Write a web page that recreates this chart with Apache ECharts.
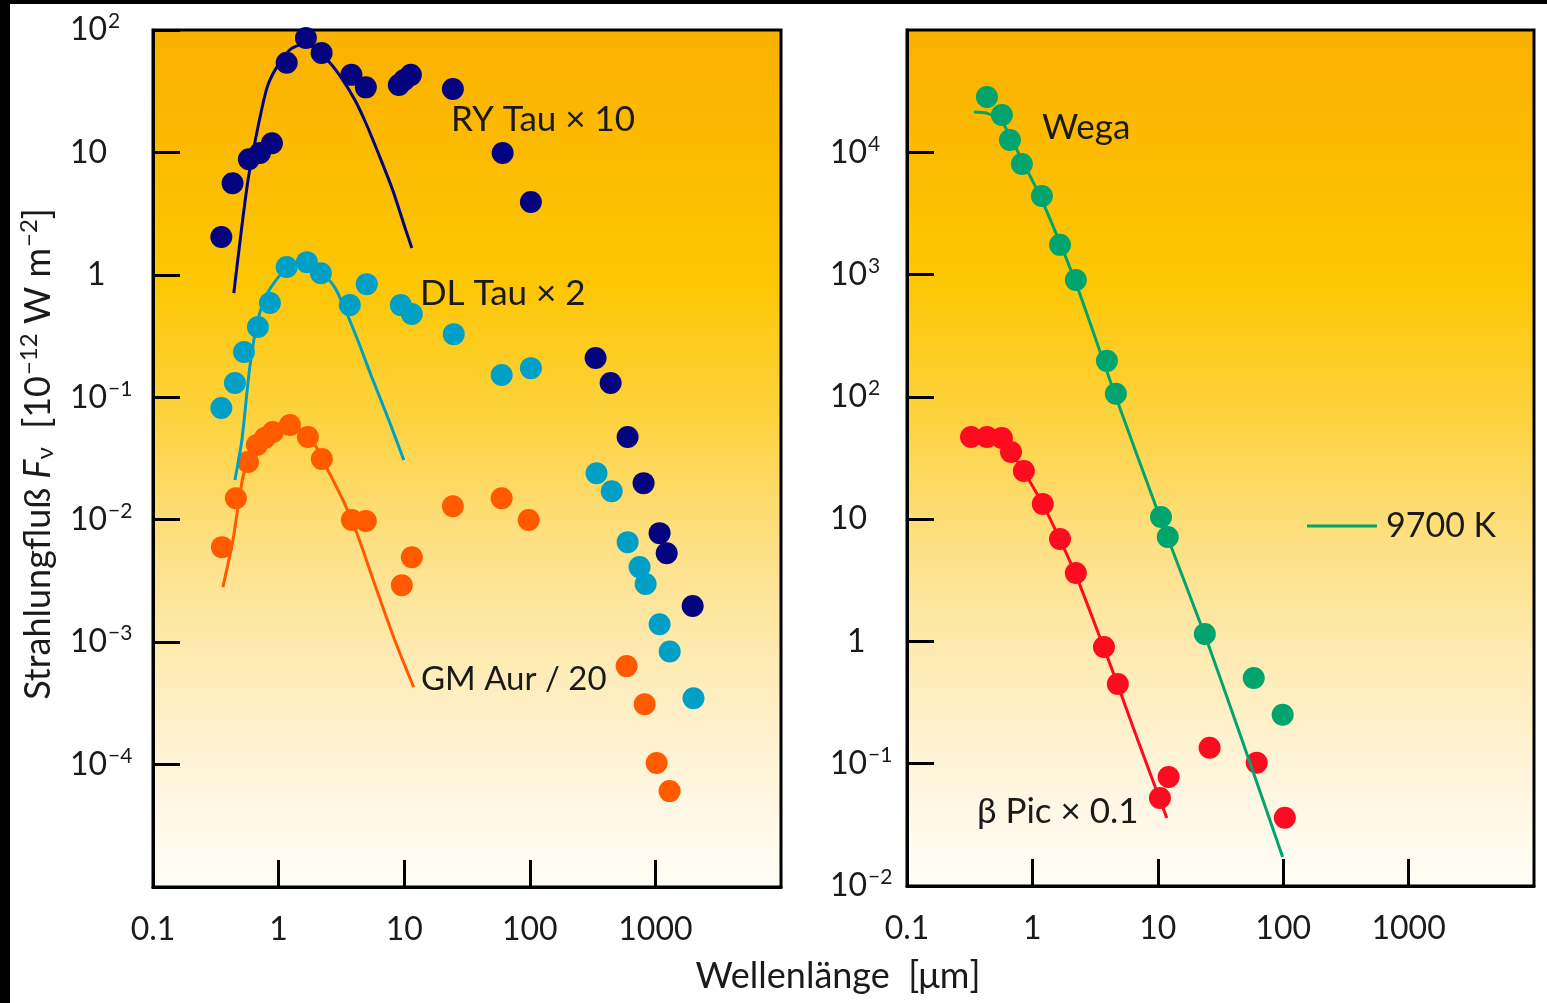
<!DOCTYPE html>
<html>
<head>
<meta charset="utf-8">
<script src="https://cdn.jsdelivr.net/npm/echarts@6/dist/echarts.min.js"></script>
<style>
  html, body { margin: 0; padding: 0; background: #fff; }
  #main { width: 1547px; height: 1003px; }
</style>
</head>
<body>
<div id="main"></div>
<script>
const chart = echarts.init(document.getElementById("main"));

// ********
// * Data *
// ********

// Left panel: T Tauri stars, [wavelength in µm, flux]
const ryTauPoints = [
  [0.35, 2.04], [0.43, 5.6], [0.58, 8.8], [0.71, 9.9], [0.885, 11.9], [1.16, 54], [1.65, 86],
  [2.2, 65], [3.8, 43], [4.95, 34], [9.06, 35.6], [10, 39], [11.3, 43], [24.4, 33], [60.8, 9.9],
  [102, 3.93], [334, 0.209], [440, 0.131], [601, 0.0473], [805, 0.0199], [1080, 0.00777],
  [1230, 0.00533], [1980, 0.00197]
];
const ryTauFit = [
  [0.44, 0.71], [0.56, 5.2], [0.67, 14.4], [0.81, 34], [0.97, 50], [1.23, 69], [1.48, 75],
  [1.87, 73], [2.56, 54], [3.25, 39], [4.05, 26.8], [4.95, 17.4], [6.4, 9.17], [8.1, 4.93],
  [10.1, 2.46], [11.5, 1.66]
];

const dlTauPoints = [
  [0.35, 0.0817], [0.449, 0.131], [0.53, 0.234], [0.684, 0.375], [0.853, 0.589], [1.16, 1.16],
  [1.68, 1.27], [2.17, 1.03], [3.69, 0.566], [5.03, 0.84], [9.4, 0.566], [11.5, 0.479],
  [24.8, 0.328], [59.7, 0.152], [102, 0.173], [340, 0.024], [449, 0.0171], [601, 0.00656],
  [748, 0.0041], [836, 0.00298], [1080, 0.0014], [1300, 0.00084], [2010, 0.000348]
];
const dlTauFit = [
  [0.449, 0.0211], [0.51, 0.0447], [0.59, 0.177], [0.684, 0.428], [0.822, 0.72], [1.08, 1.05],
  [1.48, 1.27], [1.94, 1.18], [2.8, 0.79], [4.05, 0.335], [5.52, 0.146], [7.54, 0.0652],
  [9.93, 0.0307]
];

const gmAurPoints = [
  [0.354, 0.00597], [0.457, 0.015], [0.57, 0.0296], [0.672, 0.0407], [0.778, 0.0465],
  [0.9, 0.052], [1.23, 0.0593], [1.71, 0.0473], [2.21, 0.0313], [3.83, 0.00993],
  [4.95, 0.00975], [9.57, 0.00292], [11.5, 0.00494], [24.4, 0.0129], [59.7, 0.015],
  [98, 0.00993], [590, 0.000637], [821, 0.000311], [1023, 0.000103], [1297, 0.0000607]
];
const gmAurFit = [
  [0.36, 0.00281], [0.433, 0.00681], [0.52, 0.0223], [0.613, 0.037], [0.778, 0.051],
  [1.04, 0.0593], [1.42, 0.056], [1.91, 0.0422], [2.47, 0.0254], [3.25, 0.0145],
  [4.2, 0.00776], [5.94, 0.00281], [8.4, 0.00104], [11.9, 0.000428]
];

// Right panel: Wega and beta Pictoris
const wegaPoints = [
  [0.434, 28300], [0.571, 20200], [0.662, 12600], [0.824, 8020], [1.19, 4390], [1.66, 1750],
  [2.22, 903], [3.93, 197], [4.63, 106], [10.6, 10.4], [12.0, 7.15], [23.7, 1.15],
  [58.2, 0.503], [99, 0.251]
];
// 9700 K black body
const wegaFit = [
  [0.342, 21400], [0.434, 20900], [0.571, 17700], [0.824, 8650], [1.19, 4070], [2.22, 853],
  [4.63, 99.8], [10.6, 9.85], [23.7, 1.13], [48.4, 0.143], [99, 0.0173]
];

const betaPicPoints = [
  [0.324, 47], [0.434, 47], [0.571, 46.1], [0.675, 35.4], [0.855, 24.8], [1.21, 13.3],
  [1.66, 6.89], [2.22, 3.63], [3.72, 0.902], [4.8, 0.449], [10.4, 0.0525], [12.2, 0.078],
  [25.9, 0.135], [61.5, 0.102], [103, 0.0361]
];
const betaPicFit = [
  [0.324, 47], [0.571, 43.5], [0.70, 33.5], [0.938, 20.9], [1.24, 12.6], [1.66, 6.8],
  [2.22, 3.5], [3.72, 0.885], [4.89, 0.417], [7.06, 0.148], [11.8, 0.036]
];

// Axis ranges (decades)
const xRange = [0.1, 10000];
const yRangeLeft = [1e-5, 100];
const yRangeRight = [0.01, 1e5];

// ***********
// * Styling *
// ***********

const colors = {
  ryTau: "#03037f",
  dlTau: "#00a0c6",
  gmAur: "#ff5a00",
  wega: "#00a46c",
  betaPic: "#ff0a1e",
};
const font = "Lato";
const textColor = "#1a1a1a";

const plotBackground = new echarts.graphic.LinearGradient(0, 0, 0, 1, [
  { offset: 0, color: "#fab100" },
  { offset: 0.12, color: "#fbb900" },
  { offset: 0.3, color: "#fdc706" },
  { offset: 0.45, color: "#fdd23e" },
  { offset: 0.6, color: "#fde084" },
  { offset: 0.75, color: "#feecb9" },
  { offset: 0.9, color: "#fff7e4" },
  { offset: 1, color: "#fffdf7" },
]);

function decade(value) {
  return Math.round(Math.log10(value));
}

function xLabel(value) {
  const e = decade(value);
  if (e >= 4) return "";
  return e < 0 ? "0.1" : String(Math.pow(10, e));
}

function yLabel(value) {
  const e = decade(value);
  if (e === 0) return "{one|1}";
  if (e === 1) return "10";
  return "10{sup|" + String(e).replace("-", "\u2212") + "}";
}

const labelRich = {
  sup: { fontSize: 21, fontFamily: font, color: textColor, padding: [0, 0, 17, 1] },
  one: { fontSize: 32, fontFamily: font, color: textColor, padding: [0, 0, 0, 17] },
};

function xAxis(gridIndex) {
  return {
    type: "log",
    logBase: 10,
    gridIndex: gridIndex,
    min: xRange[0],
    max: xRange[1],
    splitNumber: 5,
    axisLine: { show: true, lineStyle: { color: "#000", width: 3 } },
    axisTick: { show: true, inside: true, length: 27, lineStyle: { color: "#000", width: 3 } },
    splitLine: { show: false },
    minorTick: { show: false },
    axisLabel: {
      formatter: xLabel,
      margin: 27,
      fontSize: 32,
      fontFamily: font,
      color: textColor,
      showMinLabel: true,
      showMaxLabel: false,
    },
  };
}

function yAxis(gridIndex, range, margin, showMin, showMax) {
  return {
    type: "log",
    logBase: 10,
    gridIndex: gridIndex,
    min: range[0],
    max: range[1],
    splitNumber: 7,
    axisLine: { show: true, lineStyle: { color: "#000", width: 3 } },
    axisTick: { show: true, inside: true, length: 27, lineStyle: { color: "#000", width: 3 } },
    splitLine: { show: false },
    axisLabel: {
      formatter: yLabel,
      rich: labelRich,
      align: "left",
      margin: margin,
      fontSize: 32,
      fontFamily: font,
      color: textColor,
      showMinLabel: showMin,
      showMaxLabel: showMax,
    },
  };
}

function dots(name, data, color, axisIndex) {
  return {
    name: name,
    type: "scatter",
    xAxisIndex: axisIndex,
    yAxisIndex: axisIndex,
    data: data,
    symbol: "circle",
    symbolSize: 22,
    itemStyle: { color: color, opacity: 1 },
    z: 3,
  };
}

function fit(name, data, color, axisIndex) {
  return {
    name: name,
    type: "line",
    xAxisIndex: axisIndex,
    yAxisIndex: axisIndex,
    data: data,
    showSymbol: false,
    smooth: 0.25,
    lineStyle: { color: color, width: 3 },
    z: 4,
  };
}

function label(text, x, y, size) {
  return {
    type: "text",
    x: x,
    y: y,
    style: {
      text: text,
      fontSize: size,
      fontFamily: font,
      fill: textColor,
      verticalAlign: "middle",
      align: "left",
    },
    z: 10,
  };
}

const option = {
  animation: false,
  backgroundColor: "#fff",
  grid: [
    {
      left: 153, top: 30, width: 628, height: 857,
      show: true, backgroundColor: plotBackground, borderColor: "#000", borderWidth: 3,
    },
    {
      left: 907, top: 30, width: 627, height: 856,
      show: true, backgroundColor: plotBackground, borderColor: "#000", borderWidth: 3,
    },
  ],
  xAxis: [xAxis(0), xAxis(1)],
  yAxis: [
    yAxis(0, yRangeLeft, 83, false, true),
    yAxis(1, yRangeRight, 77, true, false),
  ],
  series: [
    dots("RY Tau", ryTauPoints, colors.ryTau, 0),
    fit("RY Tau fit", ryTauFit, colors.ryTau, 0),
    dots("DL Tau", dlTauPoints, colors.dlTau, 0),
    fit("DL Tau fit", dlTauFit, colors.dlTau, 0),
    dots("GM Aur", gmAurPoints, colors.gmAur, 0),
    fit("GM Aur fit", gmAurFit, colors.gmAur, 0),
    dots("Wega", wegaPoints, colors.wega, 1),
    fit("9700 K", wegaFit, colors.wega, 1),
    dots("beta Pic", betaPicPoints, colors.betaPic, 1),
    fit("beta Pic fit", betaPicFit, colors.betaPic, 1),
  ],
  graphic: [
    // black strips at the top and left edge of the scan
    { type: "rect", shape: { x: 0, y: 0, width: 1547, height: 4 }, style: { fill: "#000" }, z: 20 },
    { type: "rect", shape: { x: 0, y: 0, width: 10, height: 1003 }, style: { fill: "#000" }, z: 20 },

    label("RY Tau \u00d7 10", 451, 120, 35),
    label("DL Tau \u00d7 2", 420, 294, 35),
    label("GM Aur / 20", 421, 679, 33),
    label("Wega", 1042, 128, 35),
    label("\u03b2 Pic \u00d7 0.1", 977, 812, 35),
    label("9700 K", 1386, 526, 34),
    {
      type: "line",
      shape: { x1: 1307, y1: 526, x2: 1377, y2: 526 },
      style: { stroke: colors.wega, lineWidth: 3 },
      z: 10,
    },

    // axis titles
    {
      type: "text",
      x: 838,
      y: 976,
      style: {
        text: "Wellenl\u00e4nge  [\u03bcm]",
        fontSize: 36,
        fontFamily: font,
        fill: textColor,
        align: "center",
        verticalAlign: "middle",
      },
    },
    {
      type: "text",
      x: 38,
      y: 454,
      rotation: Math.PI / 2,
      style: {
        text: "Strahlungflu\u00df {it|F}{sub|\u03bd}  [10{sup|\u221212} W m{sup|\u22122}]",
        fontSize: 36,
        fontFamily: font,
        fill: textColor,
        align: "center",
        verticalAlign: "middle",
        rich: {
          it: { fontSize: 36, fontFamily: font, fontStyle: "italic", fill: textColor },
          sub: { fontSize: 24, fontFamily: font, fill: textColor, padding: [14, 0, 0, 0] },
          sup: { fontSize: 24, fontFamily: font, fill: textColor, padding: [0, 0, 17, 1] },
        },
      },
    },
  ],
};

chart.setOption(option);
</script>
</body>
</html>
